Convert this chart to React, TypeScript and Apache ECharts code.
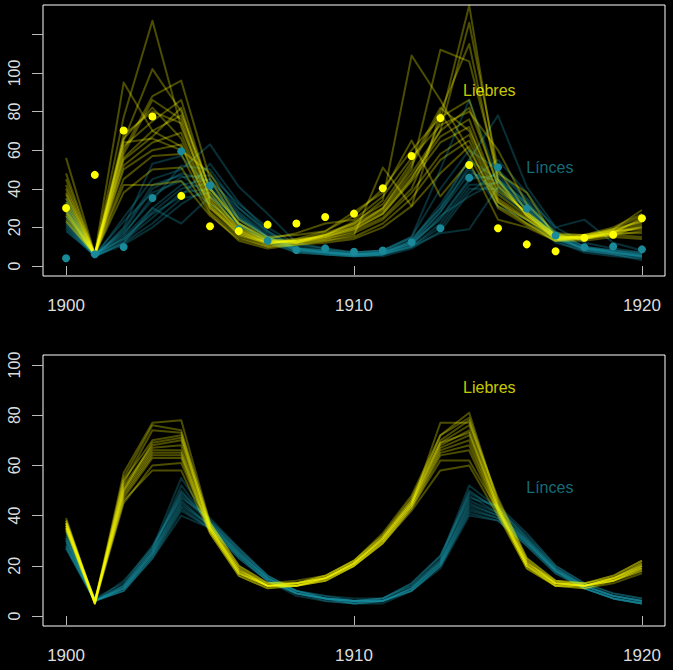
import { useEffect, useRef } from "react";
import * as echarts from "echarts";

// años y datos observados (Hudson Bay)
const years = [1900, 1901, 1902, 1903, 1904, 1905, 1906, 1907, 1908, 1909, 1910, 1911, 1912, 1913, 1914, 1915, 1916, 1917, 1918, 1919, 1920];
const hareObs = [30, 47.2, 70.2, 77.4, 36.3, 20.6, 18.1, 21.4, 22, 25.4, 27.1, 40.3, 57, 76.6, 52.3, 19.5, 11.2, 7.6, 14.6, 16.2, 24.7];
const lynxObs = [4, 6.1, 9.8, 35.2, 59.4, 41.7, 19, 13, 8.3, 9.1, 7.4, 8, 12.3, 19.5, 45.7, 51.1, 29.7, 15.8, 9.7, 10.1, 8.6];

// panel superior: simulaciones con ruido
const hareDrawsTop = [
  [56, 6, 95, 70, 62, 30, 17, 12, 13, 15, 19, 27, 45, 70, 82, 42, 27, 15, 14, 17, 22],
  [45, 6, 77, 127, 72, 36, 20, 13, 12, 14, 18, 25, 40, 75, 135, 45, 26, 14, 15, 18, 24],
  [40, 6, 65, 102, 80, 40, 22, 14, 12, 15, 20, 30, 50, 112, 106, 48, 38, 14, 14, 16, 21],
  [38, 6, 60, 88, 96, 45, 21, 13, 13, 16, 22, 34, 109, 86, 60, 33, 24, 15, 15, 17, 20],
  [35, 6, 58, 86, 76, 35, 18, 12, 12, 16, 21, 29, 48, 70, 126, 50, 28, 16, 14, 18, 23],
  [33, 6, 68, 80, 74, 33, 19, 12, 13, 17, 22, 30, 52, 80, 115, 44, 26, 15, 15, 17, 25],
  [31, 6, 62, 75, 86, 38, 19, 13, 14, 18, 26, 40, 60, 77, 86, 41, 27, 16, 15, 19, 29],
  [29, 6, 55, 67, 82, 34, 17, 11, 12, 16, 20, 28, 46, 67, 76, 37, 26, 15, 15, 19, 23],
  [28, 6, 52, 64, 69, 32, 16, 11, 14, 15, 19, 27, 44, 64, 72, 35, 25, 14, 14, 18, 20],
  [27, 6, 50, 60, 63, 30, 16, 12, 13, 14, 17, 24, 38, 58, 68, 34, 24, 14, 16, 18, 19],
  [26, 6, 45, 57, 58, 28, 15, 10, 11, 13, 15, 22, 35, 55, 65, 33, 22, 13, 15, 17, 17],
  [24, 6, 38, 50, 51, 27, 13, 9, 11, 12, 14, 20, 31, 48, 62, 30, 21, 13, 14, 16, 15],
  [23, 6, 42, 42, 44, 26, 14, 10, 12, 13, 16, 51, 31, 79, 57, 31, 22, 14, 15, 16, 18],
  [37, 6, 56, 70, 78, 40, 22, 14, 17, 22, 24, 36, 56, 73, 80, 60, 32, 17, 16, 20, 27],
  [48, 6, 64, 66, 60, 48, 24, 15, 16, 18, 28, 38, 65, 36, 54, 24, 20, 13, 13, 15, 14],
  [42, 6, 66, 82, 66, 31, 18, 12, 13, 16, 23, 32, 54, 82, 70, 39, 28, 16, 16, 19, 26],
];
const lynxDrawsTop = [
  [35, 5, 25, 45, 50, 63, 41, 27, 12, 9, 7, 8, 14, 30, 55, 45, 33, 17, 10, 8, 6],
  [33, 5, 20, 53, 57, 40, 25, 15, 9, 8, 7, 8, 15, 50, 86, 45, 32, 16, 10, 8, 7],
  [31, 6, 18, 40, 48, 44, 30, 18, 10, 8, 6, 7, 13, 32, 55, 78, 41, 20, 12, 9, 7],
  [29, 6, 16, 36, 46, 47, 32, 20, 11, 9, 7, 8, 15, 40, 60, 50, 35, 20, 24, 12, 8],
  [28, 5, 15, 30, 42, 45, 28, 16, 9, 7, 6, 7, 12, 28, 48, 44, 31, 15, 9, 7, 5],
  [26, 6, 14, 28, 40, 43, 27, 15, 8, 7, 6, 6, 11, 25, 45, 47, 32, 16, 9, 7, 5],
  [25, 5, 13, 25, 38, 40, 24, 14, 8, 7, 5, 6, 10, 22, 42, 43, 30, 14, 8, 6, 4],
  [23, 5, 12, 22, 35, 38, 22, 13, 7, 6, 5, 6, 10, 20, 40, 40, 28, 13, 7, 5, 4],
  [22, 6, 17, 34, 52, 50, 30, 17, 9, 8, 6, 7, 13, 30, 50, 38, 27, 14, 9, 8, 6],
  [21, 5, 12, 30, 22, 36, 25, 15, 9, 7, 6, 6, 10, 17, 19, 41, 30, 15, 9, 7, 5],
  [20, 6, 23, 38, 44, 32, 22, 13, 8, 7, 6, 7, 11, 26, 36, 44, 29, 14, 9, 7, 5],
  [19, 5, 11, 20, 32, 41, 26, 15, 8, 6, 5, 5, 9, 18, 38, 49, 34, 16, 8, 6, 3],
  [18, 6, 14, 27, 36, 53, 33, 18, 9, 7, 6, 7, 12, 24, 44, 55, 38, 18, 10, 7, 6],
  [30, 5, 19, 42, 47, 36, 21, 12, 7, 6, 5, 6, 12, 28, 52, 31, 24, 12, 8, 6, 5],
];

// panel inferior: trayectorias medias
const hareDrawsBottom = [
  [39, 5, 57, 77, 78, 37, 20, 13, 13, 15, 21, 30, 44, 77, 77, 47, 23, 14, 12, 14, 19],
  [38, 6, 55, 76, 74, 36, 19, 12, 12, 15, 21, 31, 46, 72, 81, 45, 22, 13, 13, 15, 21],
  [37, 5, 54, 70, 72, 35, 19, 12, 13, 16, 22, 32, 47, 70, 78, 44, 21, 14, 13, 16, 22],
  [37, 6, 52, 68, 70, 36, 18, 13, 13, 16, 22, 32, 46, 69, 76, 44, 22, 13, 12, 15, 21],
  [36, 5, 51, 67, 68, 35, 18, 12, 13, 15, 21, 31, 45, 68, 74, 43, 21, 13, 12, 15, 20],
  [36, 6, 50, 66, 66, 35, 17, 12, 13, 15, 21, 31, 45, 67, 72, 43, 20, 13, 12, 14, 20],
  [35, 5, 49, 65, 65, 34, 17, 12, 12, 15, 21, 30, 44, 66, 70, 42, 20, 12, 12, 15, 19],
  [35, 6, 48, 64, 64, 34, 17, 12, 12, 15, 20, 30, 44, 65, 68, 42, 20, 13, 12, 14, 19],
  [34, 5, 47, 63, 63, 33, 16, 11, 12, 14, 20, 29, 43, 64, 66, 41, 19, 12, 11, 14, 18],
  [35, 5, 45, 60, 61, 34, 17, 12, 12, 14, 20, 29, 43, 62, 62, 42, 20, 12, 12, 14, 18],
  [37, 6, 46, 58, 58, 33, 16, 11, 12, 14, 20, 29, 42, 58, 60, 40, 19, 12, 11, 13, 17],
  [38, 5, 53, 74, 73, 37, 20, 13, 14, 16, 22, 33, 48, 72, 79, 46, 23, 14, 13, 16, 22],
  [36, 6, 50, 69, 71, 35, 18, 12, 13, 15, 21, 31, 45, 69, 73, 43, 21, 13, 12, 15, 20],
];
const lynxDrawsBottom = [
  [33, 6, 12, 27, 55, 38, 26, 16, 10, 7, 6, 7, 12, 23, 52, 43, 31, 19, 12, 8, 6],
  [32, 6, 12, 26, 52, 37, 26, 15, 10, 7, 6, 7, 12, 22, 50, 42, 31, 19, 12, 8, 6],
  [31, 6, 12, 26, 50, 37, 25, 15, 10, 7, 6, 6, 11, 22, 48, 41, 30, 19, 12, 8, 6],
  [30, 6, 11, 25, 48, 37, 25, 15, 9, 7, 6, 6, 11, 21, 46, 41, 30, 18, 12, 8, 6],
  [30, 6, 11, 25, 46, 36, 25, 15, 9, 7, 6, 6, 11, 21, 45, 40, 30, 18, 12, 8, 6],
  [29, 6, 11, 25, 45, 36, 24, 15, 9, 7, 6, 6, 11, 21, 44, 40, 29, 18, 11, 7, 5],
  [28, 6, 11, 24, 44, 36, 24, 14, 9, 7, 5, 6, 10, 20, 43, 39, 29, 18, 11, 7, 5],
  [28, 6, 10, 24, 43, 35, 24, 14, 9, 7, 5, 6, 10, 20, 42, 39, 29, 18, 11, 7, 5],
  [27, 6, 10, 23, 42, 35, 23, 14, 9, 6, 5, 6, 10, 20, 41, 38, 28, 17, 11, 7, 5],
  [27, 6, 10, 23, 40, 35, 23, 14, 8, 6, 5, 5, 10, 19, 40, 38, 28, 17, 11, 7, 5],
  [34, 7, 13, 28, 47, 39, 27, 16, 10, 8, 6, 7, 13, 24, 47, 44, 33, 20, 13, 9, 7],
  [31, 6, 14, 27, 49, 38, 27, 16, 10, 8, 7, 7, 13, 24, 49, 43, 32, 20, 13, 9, 7],
];

const xTicks = [1900, 1910, 1920];
const yTicksTop = [0, 20, 40, 60, 80, 100, 120];
const yLabelsTop = [0, 20, 40, 60, 80, 100];
const yTicksBottom = [0, 20, 40, 60, 80, 100];

const FONT = "'Liberation Sans', Arial, Helvetica, sans-serif";
const YELLOW = "#ffff00";
const TEAL = "#1a8a9a";
const HARE_LINE = "rgba(255, 255, 0, 0.3)";
const LYNX_LINE = "rgba(24, 146, 164, 0.32)";

const pairs = (vals: number[]) => vals.map((v, i) => [years[i], v]);

function xAxis(gridIndex: number) {
  return {
    type: "value" as const,
    gridIndex,
    min: 1899.2,
    max: 1920.8,
    offset: 2,
    axisLine: { show: false },
    splitLine: { show: false },
    axisTick: { show: true, length: 9, customValues: xTicks, lineStyle: { color: "#bbbbbb" } },
    axisLabel: {
      customValues: xTicks,
      color: "#dddddd",
      fontSize: 17,
      fontFamily: FONT,
      margin: 19,
      formatter: (v: number) => String(v),
    },
  };
}

function yAxis(gridIndex: number, min: number, max: number, ticks: number[], labels: number[]) {
  return {
    type: "value" as const,
    gridIndex,
    min,
    max,
    axisLine: { show: false },
    splitLine: { show: false },
    axisTick: { show: true, length: 11, customValues: ticks, lineStyle: { color: "#bbbbbb" } },
    axisLabel: {
      customValues: labels,
      rotate: 90,
      color: "#dddddd",
      fontSize: 16,
      fontFamily: FONT,
      margin: 21,
      formatter: (v: number) => String(v),
    },
  };
}

function lines(draws: number[][], color: string, idx: number) {
  return draws.map((d) => ({
    type: "line" as const,
    xAxisIndex: idx,
    yAxisIndex: idx,
    data: pairs(d),
    symbol: "none",
    silent: true,
    z: 2,
    lineStyle: { color, width: 2, join: "round" as const },
  }));
}

function points(vals: number[], color: string) {
  return {
    type: "scatter" as const,
    xAxisIndex: 0,
    yAxisIndex: 0,
    data: pairs(vals),
    symbolSize: 8,
    silent: true,
    z: 3,
    itemStyle: { color, opacity: 1 },
  };
}

function label(text: string, x: number, y: number, color: string, idx: number) {
  return {
    type: "scatter" as const,
    xAxisIndex: idx,
    yAxisIndex: idx,
    data: [[x, y]],
    symbolSize: 1,
    silent: true,
    z: 4,
    itemStyle: { color: "rgba(0,0,0,0)" },
    label: {
      show: true,
      position: "inside" as const,
      formatter: text,
      color,
      fontSize: 16,
      fontFamily: FONT,
    },
  };
}

export default function App() {
  const chartRef = useRef<HTMLDivElement>(null);

  useEffect(() => {
    if (!chartRef.current) return;
    document.body.style.margin = "0";
    document.body.style.background = "#000";

    const chart = echarts.init(chartRef.current, undefined, { renderer: "svg" });

    const option: echarts.EChartsOption = {
      animation: false,
      backgroundColor: "#000000",
      grid: [
        { left: 43, right: 8, top: 5, height: 271, show: true, borderColor: "#ffffff", borderWidth: 1, backgroundColor: "transparent" },
        { left: 43, right: 8, top: 355, height: 271, show: true, borderColor: "#ffffff", borderWidth: 1, backgroundColor: "transparent" },
      ],
      xAxis: [xAxis(0), xAxis(1)],
      yAxis: [
        yAxis(0, -5.2, 135.2, yTicksTop, yLabelsTop),
        yAxis(1, -4, 104, yTicksBottom, yTicksBottom),
      ],
      series: [
        ...lines(lynxDrawsTop, LYNX_LINE, 0),
        ...lines(hareDrawsTop, HARE_LINE, 0),
        points(lynxObs, TEAL),
        points(hareObs, YELLOW),
        label("Liebres", 1914.7, 91, YELLOW, 0),
        label("Línces", 1916.8, 51, TEAL, 0),
        ...lines(lynxDrawsBottom, LYNX_LINE, 1),
        ...lines(hareDrawsBottom, HARE_LINE, 1),
        label("Liebres", 1914.7, 91, YELLOW, 1),
        label("Línces", 1916.8, 51, TEAL, 1),
      ] as echarts.SeriesOption[],
    };

    chart.setOption(option);

    return () => {
      chart.dispose();
    };
  }, []);

  return <div ref={chartRef} style={{ width: 673, height: 670 }} />;
}
